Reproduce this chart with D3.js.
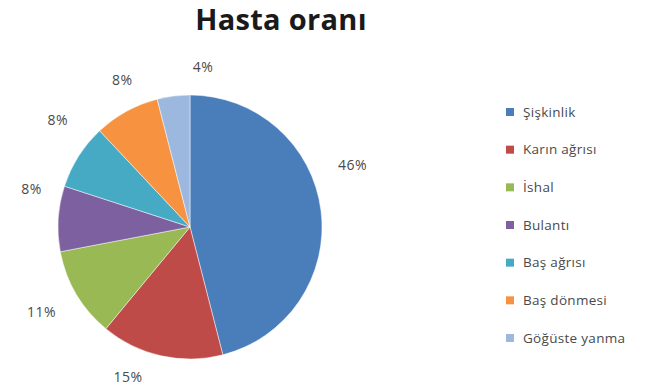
<!DOCTYPE html>
<html>
<head>
<meta charset="utf-8">
<script src="https://cdn.jsdelivr.net/npm/d3@7"></script>
<style>
  html, body { margin: 0; padding: 0; background: #fff; }
  svg { display: block; }
</style>
</head>
<body>
<svg id="chart" width="672" height="388"></svg>
<script>
// Complaint categories and their share of patients (%)
const categories = ["Şişkinlik", "Karın ağrısı", "İshal", "Bulantı", "Baş ağrısı", "Baş dönmesi", "Göğüste yanma"];
const shares = [46, 15, 11, 8, 8, 8, 4];
const sliceLabels = ["46%", "15%", "11%", "8%", "8%", "8%", "4%"];
const palette = ["#4a7ebb", "#be4b48", "#98b954", "#7d60a0", "#46aac5", "#f69240", "#9db8df"];

// Pie layout settings
const cx = 190, cy = 227, radius = 132;
// Label placement: angular shift from each slice's mid-angle (deg) and distance from centre
const labelShift = [-13.6, 9.9, 0.9, 10, 6.5, 4.1, 11.9];
const labelDist = [174, 162, 171, 163, 170, 162, 160];

const svg = d3.select("#chart");

svg.append("text")
  .attr("x", 281).attr("y", 30)
  .attr("text-anchor", "middle")
  .attr("font-family", "'Open Sans', sans-serif")
  .attr("font-weight", 700)
  .attr("font-size", 29)
  .attr("letter-spacing", 0.3)
  .attr("fill", "#1a1a1a")
  .text("Hasta oranı");

const pie = d3.pie().sort(null).value(d => d);
const arcs = pie(shares);
const arc = d3.arc().innerRadius(0).outerRadius(radius);
const color = d3.scaleOrdinal().domain(categories).range(palette);

const g = svg.append("g").attr("transform", `translate(${cx},${cy})`);

g.selectAll("path.slice")
  .data(arcs)
  .join("path")
  .attr("class", "slice")
  .attr("d", arc)
  .attr("fill", (d, i) => color(categories[i]))
  .attr("stroke", "#ffffff")
  .attr("stroke-opacity", 0.6)
  .attr("stroke-width", 0.8);

g.selectAll("text.pct")
  .data(arcs)
  .join("text")
  .attr("class", "pct")
  .attr("x", (d, i) => {
    const a = (d.startAngle + d.endAngle) / 2 + labelShift[i] * Math.PI / 180;
    return Math.sin(a) * labelDist[i];
  })
  .attr("y", (d, i) => {
    const a = (d.startAngle + d.endAngle) / 2 + labelShift[i] * Math.PI / 180;
    return -Math.cos(a) * labelDist[i];
  })
  .attr("dy", "0.35em")
  .attr("text-anchor", "middle")
  .attr("font-family", "'Open Sans', sans-serif")
  .attr("font-size", 14)
  .attr("letter-spacing", 0.5)
  .attr("fill", "#4a4a4a")
  .text((d, i) => sliceLabels[i]);

// Legend
const legendY = d3.scalePoint().domain(categories).range([112, 338]);
const legend = svg.append("g");
const items = legend.selectAll("g")
  .data(categories)
  .join("g")
  .attr("transform", d => `translate(510,${legendY(d)})`);

items.append("rect")
  .attr("x", -4).attr("y", -4)
  .attr("width", 8).attr("height", 8)
  .attr("fill", d => color(d));

items.append("text")
  .attr("x", 13).attr("dy", "0.35em")
  .attr("font-family", "'Open Sans', sans-serif")
  .attr("font-size", 13.5)
  .attr("letter-spacing", 0.3)
  .attr("fill", "#4a4a4a")
  .text(d => d);
</script>
</body>
</html>
